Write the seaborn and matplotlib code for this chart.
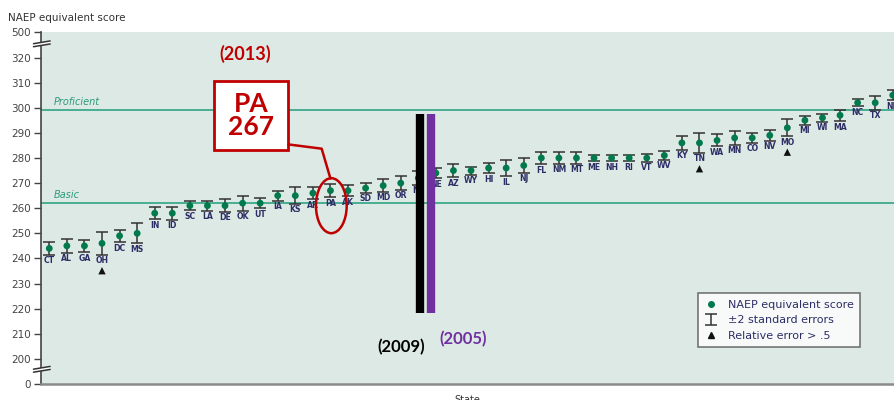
import numpy as np
import pandas as pd
import seaborn as sns
import matplotlib.pyplot as plt
from matplotlib.patches import Ellipse, Rectangle, Polygon
from matplotlib.lines import Line2D

# state order and NAEP equivalent scores
states = ['CT', 'AL', 'GA', 'OH', 'DC', 'MS', 'IN', 'ID', 'SC', 'LA', 'DE', 'OK', 'UT',
          'IA', 'KS', 'AR', 'PA', 'AK', 'SD', 'MD', 'OR', 'NY', 'NE', 'AZ', 'WY', 'HI',
          'IL', 'NJ', 'FL', 'NM', 'MT', 'ME', 'NH', 'RI', 'VT', 'WV', 'KY', 'TN', 'WA',
          'MN', 'CO', 'NV', 'MO', 'MI', 'WI', 'MA', 'NC', 'TX', 'ND']
scores = [244, 245, 245, 246, 249, 250, 258, 258, 261, 261, 261, 262, 262,
          265, 265, 266, 267, 267, 268, 269, 270, 272, 274, 275, 275, 276,
          276, 277, 280, 280, 280, 280, 280, 280, 280, 281, 286, 286, 287,
          288, 288, 289, 292, 295, 296, 297, 302, 302, 305]
# +/- 2 standard errors
errs = [2.6, 2.7, 2.5, 4.6, 2.5, 4.0, 2.3, 2.5, 1.8, 2.0, 2.5, 3.0, 2.0,
        2.0, 3.3, 2.5, 2.7, 2.3, 1.9, 2.5, 2.7, 2.7, 2.0, 2.7, 1.6, 2.0,
        3.2, 2.8, 2.5, 2.3, 2.3, 1.3, 1.3, 1.3, 1.5, 1.7, 2.7, 4.0, 2.4,
        2.7, 2.0, 2.1, 3.4, 1.7, 1.6, 2.3, 1.5, 2.7, 2.0]
# states flagged with relative error > .5
flagged = ['OH', 'TN', 'MO']

proficient_cut = 299
basic_cut = 262

df = pd.DataFrame({'state': states, 'score': scores, 'err': errs})
df['x'] = np.arange(len(df))

sns.set_theme(style='white')
plt.rcParams['font.family'] = ['DejaVu Sans']

fig = plt.figure(figsize=(8.94, 4.0), dpi=100)
ax = fig.add_axes([0.0455, 0.04, 0.9545, 0.879])
ax.set_facecolor('#dce9e4')

# performance level cut lines
ax.axhline(proficient_cut, color='#3da98b', lw=1.3, zorder=1)
ax.axhline(basic_cut, color='#3da98b', lw=1.3, zorder=1)
ax.text(0.28, proficient_cut + 1.2, 'Proficient', color='#2e9a7c', style='italic',
        fontsize=7, va='bottom')
ax.text(0.28, basic_cut + 1.2, 'Basic', color='#2e9a7c', style='italic',
        fontsize=7, va='bottom')

eb = ax.errorbar(df['x'], df['score'], yerr=df['err'], fmt='none', ecolor='#333333',
                 elinewidth=1.1, capsize=4.3, capthick=1.1, zorder=3,
                 label='±2 standard errors')
sns.scatterplot(data=df, x='x', y='score', color='#007a4d', s=24, edgecolor='none',
                zorder=4, ax=ax, legend=False)

for _, r in df.iterrows():
    ax.text(r['x'], r['score'] - r['err'] - 0.6, r['state'], ha='center', va='top',
            fontsize=5.6, color='#2d2d66', fontweight='bold')

fl = df[df['state'].isin(flagged)].copy()
fl['tri'] = fl['score'] - fl['err'] - 6.3
sns.scatterplot(data=fl, x='x', y='tri', marker='^', color='#111111', s=28,
                edgecolor='none', zorder=4, ax=ax, legend=False)

# axes and ticks
ax.set_xlim(-0.49, 48.07)
ax.set_ylim(190, 330)
yt = [190, 200, 210, 220, 230, 240, 250, 260, 270, 280, 290, 300, 310, 320, 330]
ax.set_yticks(yt)
ax.set_yticklabels(['0'] + [str(v) for v in yt[1:-1]] + ['500'], fontsize=7.5, color='#444444')
ax.set_xticks([])
ax.tick_params(axis='y', which='both', left=True, length=5, width=1, color='#444444', pad=2)
for s in ['top', 'right']:
    ax.spines[s].set_visible(False)
ax.spines['left'].set_color('#444444')
ax.spines['left'].set_linewidth(1.2)
ax.spines['bottom'].set_color('#8a8a8a')
ax.spines['bottom'].set_linewidth(1.8)
ax.set_xlabel('State', fontsize=7, color='#333333', labelpad=8)
ax.set_ylabel('')
fig.text(0.009, 0.955, 'NAEP equivalent score', fontsize=7.5, color='#333333', va='center')

# axis break marks
for yb in [325.2, 195.6]:
    ax.add_patch(Polygon([(-0.9, yb - 0.9), (0.05, yb + 0.2), (0.05, yb + 1.4), (-0.9, yb + 0.3)],
                         closed=True, facecolor='white', edgecolor='none', clip_on=False, zorder=5))
    for dy in [-0.9, 0.3]:
        ax.plot([-0.9, 0.05], [yb + dy, yb + dy + 1.1], color='#333333', lw=1.1,
                clip_on=False, zorder=6)

# legend
handles = [Line2D([], [], marker='o', ls='none', color='#007a4d', markersize=4),
           eb,
           Line2D([], [], marker='^', ls='none', color='#111111', markersize=5)]
labels = ['NAEP equivalent score', '±2 standard errors', 'Relative error > .5']
leg = ax.legend(handles, labels, loc='upper left', bbox_to_anchor=(0.770, 0.259),
                borderaxespad=0, fontsize=8, frameon=True, fancybox=False,
                handlelength=1.2, handletextpad=0.9, labelspacing=0.5, borderpad=0.6)
leg.get_frame().set_edgecolor('#555555')
leg.get_frame().set_linewidth(1.2)
for t in leg.get_texts():
    t.set_color('#2d2d66')

# annotations
red = '#c00000'
ax.text(11.15, 321.4, '(2013)', color=red, fontsize=13, fontweight='bold',
        ha='center', va='center', family=['Lato', 'DejaVu Sans'])
ax.add_patch(Rectangle((9.4, 283.0), 4.2, 27.8, facecolor='white', edgecolor=red,
                       lw=2, zorder=7))
ax.text(11.5, 296.9, 'PA\n267', color=red, fontsize=19, fontweight='bold',
        ha='center', va='center', linespacing=0.95, zorder=8, family=['Lato', 'DejaVu Sans'])
ax.plot([13.6, 15.5, 16.0], [285.4, 283.7, 271.8], color=red, lw=1.8, zorder=7)
ax.add_patch(Ellipse((16.05, 261.0), 1.75, 21.9, facecolor='none', edgecolor=red,
                     lw=1.8, zorder=7))
ax.vlines(21.08, 218.3, 297.5, color='black', lw=6, zorder=6)
ax.vlines(21.73, 218.3, 297.5, color='#7030a0', lw=6, zorder=6)
ax.text(20.05, 204.8, '(2009)', color='black', fontsize=12, fontweight='bold',
        ha='center', va='center', family=['Lato', 'DejaVu Sans'])
ax.text(23.55, 208.0, '(2005)', color='#7030a0', fontsize=12, fontweight='bold',
        ha='center', va='center', family=['Lato', 'DejaVu Sans'])

fig.savefig('out.png', dpi=100, facecolor='white')
